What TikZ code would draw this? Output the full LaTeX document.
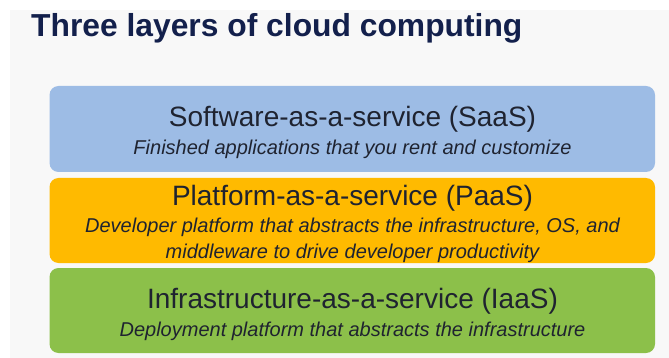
\documentclass[tikz,border=0pt]{standalone}
\usepackage{fontspec}
\setmainfont{Liberation Sans}
\definecolor{bgcol}{HTML}{F8F8F8}
\definecolor{titlecol}{HTML}{13204C}
\definecolor{txtcol}{HTML}{1F2330}
\definecolor{saascol}{HTML}{9DBCE5}
\definecolor{paascol}{HTML}{FFBA00}
\definecolor{iaascol}{HTML}{8CC04A}
\begin{document}
\begin{tikzpicture}[x=1pt,y=-1pt,
  layerbox/.style={rectangle, rounded corners=9pt, draw=none, minimum width=605.5pt, minimum height=#1, inner sep=0pt},
  headtxt/.style={anchor=base, inner sep=0pt, text=txtcol, font=\fontsize{28}{32}\selectfont},
  subtxt/.style={anchor=base, inner sep=0pt, text=txtcol, font=\fontsize{20}{24}\selectfont\itshape},
  titletxt/.style={anchor=base west, inner sep=0pt, text=titlecol, font=\fontsize{31.8}{36}\selectfont\bfseries}]
\useasboundingbox (0,0) rectangle (669,358);
\fill[white] (0,0) rectangle (669,358);
\fill[bgcol] (10,10) rectangle (669,358);
\node[titletxt] (title) at (31,37) {Three layers of cloud computing};
\node[layerbox=86pt, fill=saascol] (saas) at (352.25,129) {};
\node[layerbox=85pt, fill=paascol] (paas) at (352.25,220.5) {};
\node[layerbox=85pt, fill=iaascol] (iaas) at (352.25,310.5) {};
\node[headtxt] (saash) at (352.5,127) {Software-as-a-service (SaaS)};
\node[subtxt] (saass) at (352.5,155) {Finished applications that you rent and customize};
\node[headtxt] (paash) at (352.5,205) {Platform-as-a-service (PaaS)};
\node[subtxt] (paass1) at (352.5,233) {Developer platform that abstracts the infrastructure, OS, and};
\node[subtxt] (paass2) at (352.5,258.5) {middleware to drive developer productivity};
\node[headtxt] (iaash) at (352.5,308) {Infrastructure-as-a-service (IaaS)};
\node[subtxt] (iaass) at (352.5,336) {Deployment platform that abstracts the infrastructure};
\end{tikzpicture}
\end{document}
